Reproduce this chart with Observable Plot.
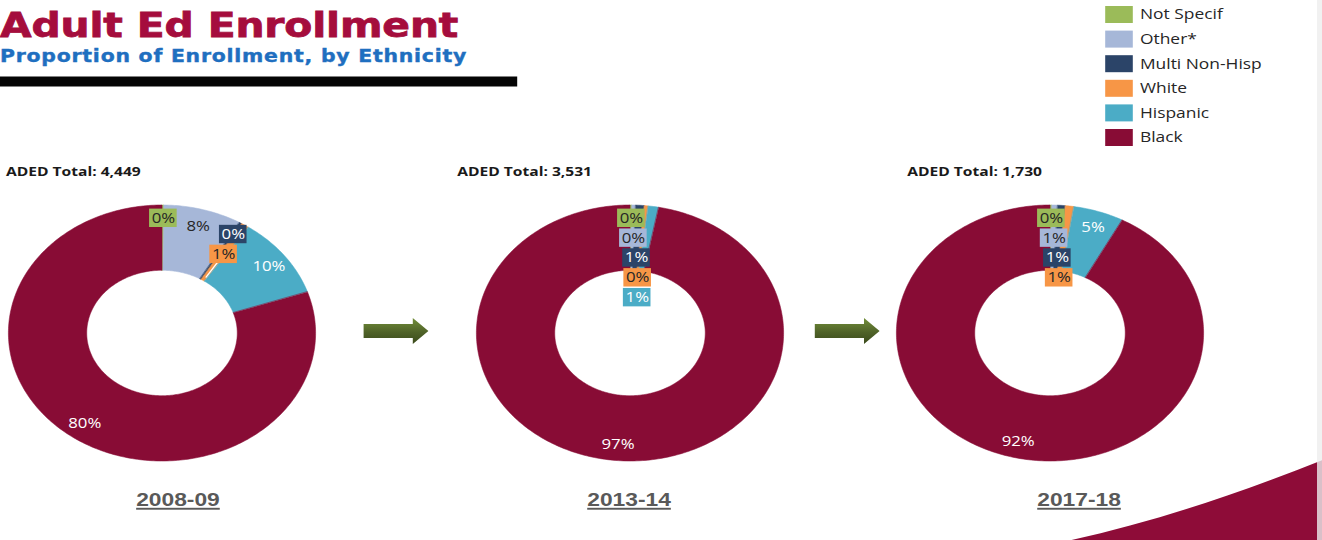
<!DOCTYPE html>
<html>
<head>
<meta charset="utf-8">
<script src="https://cdn.jsdelivr.net/npm/d3@7"></script>
<script src="https://cdn.jsdelivr.net/npm/@observablehq/plot@0.6"></script>
<style>
  html, body { margin: 0; padding: 0; background: #ffffff; overflow: hidden; }
  #page { position: relative; width: 1102px; height: 540px; transform: scaleX(1.2); transform-origin: 0 0; }
  #page svg { position: absolute; }
</style>
</head>
<body>
<div id="page"></div>
<script>
// ---------- data ----------
const categories = ["Not Specif", "Other*", "Multi Non-Hisp", "White", "Hispanic", "Black"];
const colors     = ["#9BBB59", "#A6B7D8", "#2B4468", "#F79646", "#4BACC6", "#880C35"];
const labelInk   = ["dark", "dark", "light", "dark", "light", "light"];
const years      = ["2008-09", "2013-14", "2017-18"];
const totals     = ["4,449", "3,531", "1,730"];
const share2008  = [0.2, 8.2, 0.3, 0.8, 10.3, 80.2];
const share2013  = [0.2, 0.4, 0.9, 0.4, 1.1, 97.0];
const share2017  = [0.2, 0.6, 0.8, 0.9, 5.3, 92.2];
const shares     = [share2008, share2013, share2017];

// ---------- layout (unstretched page coordinates; page is stretched 1.2x horizontally) ----------
const donutCenters = [134.6, 524.6, 875];
const donutCy = 333, R = 128, INNER = 0.49;
const headerX = [5, 381, 756];
const yearX = [148.3, 524.2, 899.2];
const arrowX = [303, 679];

const page = d3.select("#page");
const deco = page.append("svg").attr("width", 1102).attr("height", 540)
  .style("left", "0px").style("top", "0px");

// swoosh decoration
deco.append("path")
  .attr("d", "M 893 540 C 960 522, 1030 495, 1102 460 L 1102 540 Z")
  .attr("fill", "#8E0C38");
deco.append("rect").attr("x", 1097.5).attr("y", 0).attr("width", 4.5).attr("height", 540)
  .attr("fill", "#eeeeee").attr("opacity", 0.8);

// title block
deco.append("text").attr("x", 0).attr("y", 37)
  .attr("font-family", "DejaVu Sans, sans-serif").attr("font-weight", "bold")
  .attr("font-size", 34).attr("letter-spacing", -0.1)
  .attr("fill", "#A50D3D").attr("stroke", "#A50D3D").attr("stroke-width", 0.8)
  .text("Adult Ed Enrollment");
deco.append("text").attr("x", 0).attr("y", 62.5)
  .attr("font-family", "DejaVu Sans, sans-serif").attr("font-weight", "bold")
  .attr("font-size", 17).attr("letter-spacing", 0.65)
  .attr("fill", "#1F6FC0").attr("stroke", "#1F6FC0").attr("stroke-width", 0.4)
  .text("Proportion of Enrollment, by Ethnicity");
deco.append("rect").attr("x", 0).attr("y", 76.5).attr("width", 431).attr("height", 10).attr("fill", "#050505");

// legend
categories.forEach((c, i) => {
  const cy = 14.5 + i * 24.6;
  deco.append("rect").attr("x", 921).attr("y", cy - 8.5).attr("width", 23).attr("height", 17).attr("fill", colors[i]);
  deco.append("text").attr("x", 950).attr("y", cy + 5)
    .attr("font-family", "Open Sans, sans-serif").attr("font-size", 14.5).attr("fill", "#262626")
    .text(c);
});

// headers and year labels
years.forEach((y, i) => {
  deco.append("text").attr("x", headerX[i]).attr("y", 176.5)
    .attr("font-family", "Open Sans, sans-serif").attr("font-weight", "bold").attr("font-size", 13)
    .attr("fill", "#1a1a1a").text("ADED Total: " + totals[i]);
  deco.append("text").attr("x", yearX[i]).attr("y", 506).attr("text-anchor", "middle")
    .attr("font-family", "Liberation Sans, Arial, sans-serif").attr("font-weight", "bold").attr("font-size", 19)
    .attr("fill", "#595959").attr("text-decoration", "underline").text(y);
});

// arrows
const grad = deco.append("defs").append("linearGradient").attr("id", "arrowGrad")
  .attr("x1", 0).attr("y1", 0).attr("x2", 0).attr("y2", 1);
grad.append("stop").attr("offset", "0%").attr("stop-color", "#738F3A");
grad.append("stop").attr("offset", "55%").attr("stop-color", "#4F6228");
grad.append("stop").attr("offset", "100%").attr("stop-color", "#3A4A1B");
arrowX.forEach(x0 => {
  const pts = [[0, -7], [41, -7], [41, -13], [54, 0], [41, 13], [41, 7], [0, 7]]
    .map(([dx, dy]) => [x0 + dx, 331 + dy].join(",")).join(" ");
  deco.append("polygon").attr("points", pts).attr("fill", "url(#arrowGrad)");
});

// ---------- donuts ----------
function layout(values) {
  const total = d3.sum(values);
  const ring = [], labels = [], leaders = [];
  let acc = 0, prev = null;
  values.forEach((v, i) => {
    const a0 = acc / total * 2 * Math.PI; acc += v;
    const a1 = acc / total * 2 * Math.PI;
    const steps = Math.max(2, Math.ceil((a1 - a0) * 180 / Math.PI) + 1);
    for (let k = 0; k < steps; k++) {
      const t = a0 + (a1 - a0) * k / (steps - 1);
      ring.push({cat: categories[i], xi: INNER * Math.sin(t), yi: INNER * Math.cos(t), xo: Math.sin(t), yo: Math.cos(t)});
    }
    const am = (a0 + a1) / 2;
    const pct = v / total * 100;
    const lab = {cat: categories[i], text: Math.round(pct) + "%", light: labelInk[i] === "light"};
    if (pct >= 3) {
      lab.x = 0.87 * Math.sin(am); lab.y = 0.87 * Math.cos(am); lab.boxed = false;
    } else {
      lab.boxed = true;
      lab.x = 0.9 * Math.sin(am); lab.y = 0.9 * Math.cos(am);
      if (prev && am - prev.am < 0.2) {
        lab.y = prev.y - 0.155; lab.x = lab.y * Math.tan(am);
        if (am > 0.17) leaders.push({cat: categories[i], x1: lab.x, y1: lab.y, x2: 0.52 * Math.sin(am), y2: 0.52 * Math.cos(am)});
      }
      prev = {am, y: lab.y};
    }
    labels.push(lab);
  });
  return {ring, labels, leaders};
}

shares.forEach((vals, j) => {
  const {ring, labels, leaders} = layout(vals);
  const chart = Plot.plot({
    width: 2 * R + 2, height: 2 * R + 2, margin: 1,
    x: {domain: [-1, 1], axis: null},
    y: {domain: [-1, 1], axis: null},
    color: {domain: categories, range: colors},
    style: {background: "transparent", overflow: "visible"},
    marks: [
      Plot.area(ring, {x1: "xi", y1: "yi", x2: "xo", y2: "yo", z: "cat", fill: "cat", stroke: "cat", strokeWidth: 0.5, curve: "linear"}),
      Plot.link(leaders, {x1: "x1", y1: "y1", x2: "x2", y2: "y2", stroke: "cat", strokeWidth: 1.2}),
      Plot.rect(labels.filter(d => d.boxed), {x1: "x", x2: "x", y1: "y", y2: "y", fill: "cat",
        insetLeft: -11.5, insetRight: -11.5, insetTop: -9.2, insetBottom: -9.2}),
      Plot.text(labels.filter(d => d.light), {x: "x", y: "y", text: "text", fill: "#ffffff",
        fontSize: 14, fontFamily: "Open Sans, sans-serif"}),
      Plot.text(labels.filter(d => !d.light), {x: "x", y: "y", text: "text", fill: "#262626",
        fontSize: 14, fontFamily: "Open Sans, sans-serif"})
    ]
  });
  d3.select(chart).style("left", (donutCenters[j] - R - 1) + "px").style("top", (donutCy - R - 1) + "px");
  page.node().appendChild(chart);
});
</script>
</body>
</html>
